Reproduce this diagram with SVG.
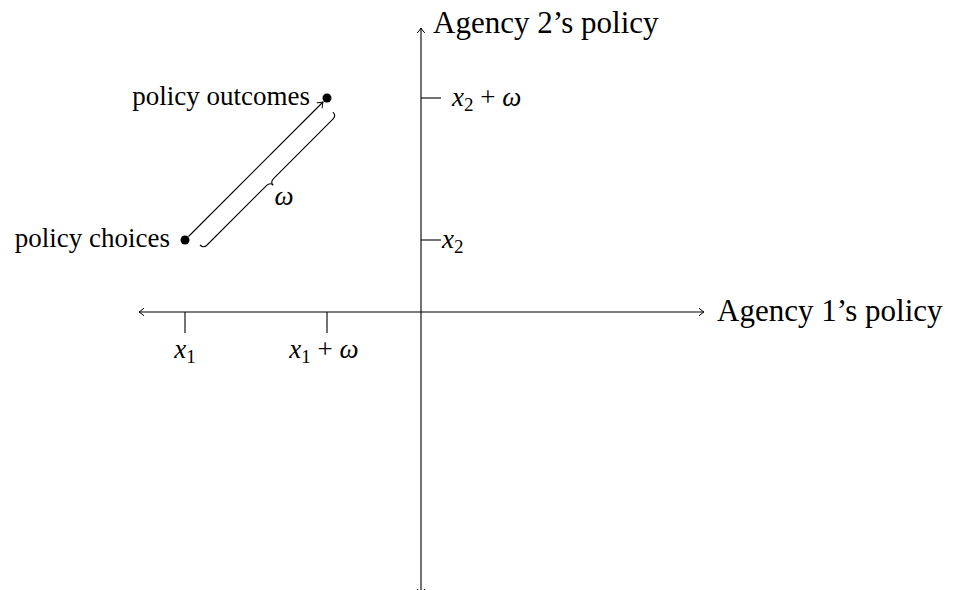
<svg xmlns="http://www.w3.org/2000/svg" width="956" height="590" viewBox="0 0 956 590">
<style>
.ln{stroke:#000;stroke-width:1.1;fill:none}
.t{font-family:"Liberation Serif",serif;fill:#000}
.m{font-family:"Liberation Serif",serif;font-style:italic;fill:#000}
</style>
<defs>
<marker id="to" viewBox="-6 -5 8 10" markerWidth="8" markerHeight="10" refX="0" refY="0" orient="auto-start-reverse" markerUnits="userSpaceOnUse">
<path d="M-5,-3.8 Q-1.5,-0.8 0,0 Q-1.5,0.8 -5,3.8" fill="none" stroke="#000" stroke-width="1"/>
</marker>
</defs>
<rect width="956" height="590" fill="#fff"/>
<g id="connectors">
<line class="ln" x1="421" y1="594" x2="421" y2="28" marker-end="url(#to)" marker-start="url(#to)"/>
<line class="ln" x1="139" y1="312" x2="704" y2="312" marker-end="url(#to)" marker-start="url(#to)"/>
<line class="ln" x1="188.5" y1="236.5" x2="323" y2="102" marker-end="url(#to)"/>
<path class="ln" transform="translate(200,245) rotate(-45)" d="M0,0 Q0,5 5,5 L89,5 Q94,5 94,9.5 Q94,5 99,5 L183,5 Q188,5 188,0"/>
</g>
<g id="axis-y">
<line class="ln" x1="421" y1="98" x2="441" y2="98"/>
<line class="ln" x1="421" y1="240" x2="441" y2="240"/>
<text class="t" x="433" y="33" font-size="31">Agency 2’s policy</text>
<text class="m" x="452" y="106" font-size="27">x<tspan font-style="normal" font-size="19" dy="5">2</tspan><tspan font-style="normal" dy="-5"> + </tspan>ω</text>
<text class="m" x="442" y="248" font-size="27">x<tspan font-style="normal" font-size="19" dy="5">2</tspan></text>
</g>
<g id="axis-x">
<line class="ln" x1="185" y1="312" x2="185" y2="333"/>
<line class="ln" x1="327" y1="312" x2="327" y2="333"/>
<text class="t" x="717" y="321" font-size="31">Agency 1’s policy</text>
<text class="m" x="185" y="358" font-size="27" text-anchor="middle">x<tspan font-style="normal" font-size="19" dy="5">1</tspan></text>
<text class="m" x="324" y="358" font-size="27" text-anchor="middle">x<tspan font-style="normal" font-size="19" dy="5">1</tspan><tspan font-style="normal" dy="-5"> + </tspan>ω</text>
</g>
<g id="policy-choices">
<circle cx="185" cy="240" r="4.5" fill="#000"/>
<text class="t" x="170" y="247" font-size="27" text-anchor="end">policy choices</text>
</g>
<g id="policy-outcomes">
<circle cx="327" cy="98" r="4.5" fill="#000"/>
<text class="t" x="310" y="105" font-size="27" text-anchor="end">policy outcomes</text>
</g>
<g id="omega">
<text class="m" x="284" y="205" font-size="27" text-anchor="middle">ω</text>
</g>
</svg>
